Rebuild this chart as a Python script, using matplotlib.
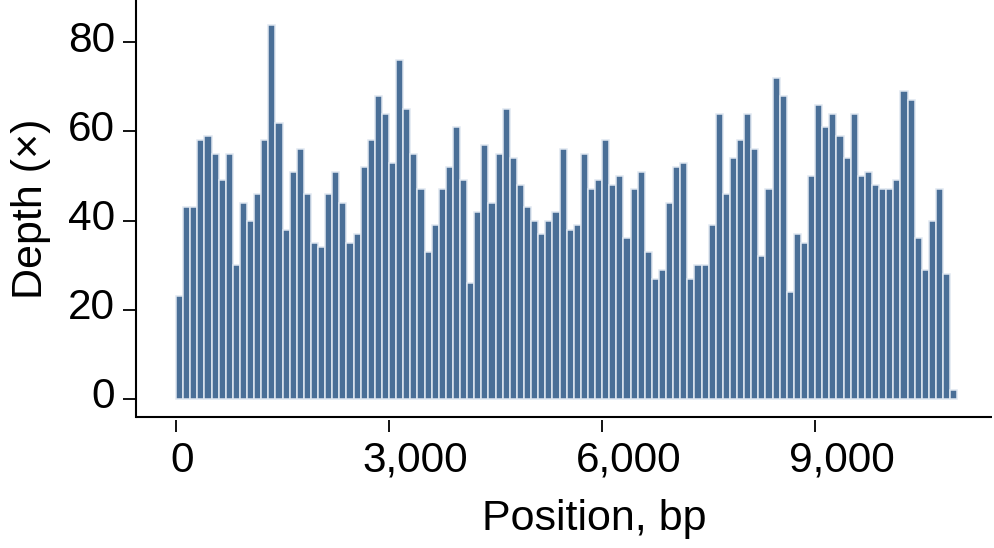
import matplotlib
matplotlib.use("Agg")
import matplotlib.pyplot as plt
from matplotlib.ticker import FuncFormatter
from matplotlib.transforms import ScaledTranslation
import numpy as np

plt.rcParams['font.family'] = ['Liberation Sans', 'DejaVu Sans']

bin_size = 100
depth = [23, 43, 43, 58, 59, 55, 49, 55, 30, 44, 40, 46, 58, 84, 62, 38, 51, 56, 46, 35,
         34, 46, 51, 44, 35, 37, 52, 58, 68, 64, 53, 76, 65, 55, 47, 33, 39, 47, 52, 61,
         49, 26, 42, 57, 44, 55, 65, 54, 48, 43, 40, 37, 40, 42, 56, 38, 39, 55, 47, 49,
         58, 48, 50, 36, 47, 51, 33, 27, 29, 44, 52, 53, 27, 30, 30, 39, 64, 46, 54, 58,
         64, 56, 32, 47, 72, 68, 24, 37, 35, 50, 66, 61, 64, 59, 54, 64, 50, 51, 48, 47,
         47, 49, 69, 67, 36, 29, 40, 47, 28, 2]
positions = np.arange(len(depth)) * bin_size
xticks = [0, 3000, 6000, 9000]
yticks = [0, 20, 40, 60, 80]

DPI = 100
fig = plt.figure(figsize=(9.95, 5.48), dpi=DPI)
ax = fig.add_axes([0.1367, 0.2396, 0.997 - 0.1367, 1 - 0.2396])

ax.bar(positions, depth, width=bin_size, align='edge', color='#4a6f97',
       edgecolor='#dfe7f0', linewidth=1.1)

ax.set_xlim(-563, 11490)
ax.set_ylim(-4, 89.5)
ax.set_xticks(xticks)
ax.set_yticks(yticks)
ax.xaxis.set_major_formatter(FuncFormatter(lambda v, p: f"{int(v):,}"))

for s in ['top', 'right']:
    ax.spines[s].set_visible(False)
ax.spines['left'].set_linewidth(1.5)
# bottom axis: ticks hang slightly below the axis line
ax.spines['bottom'].set_position(('outward', 2.4))
ax.spines['bottom'].set_visible(False)
ax.plot([0, 1], [0, 0], transform=ax.transAxes, color='black', lw=1.5,
        clip_on=False, solid_capstyle='butt')

ax.tick_params(axis='both', labelsize=30.5, width=1.3, direction='out', colors='black')
ax.tick_params(axis='x', length=8.5, pad=6.5)
ax.tick_params(axis='y', length=9.5, pad=5.5)

ax.set_xlabel('Position, bp', fontsize=31, labelpad=13, x=0.535)
ax.set_ylabel('Depth (×)', fontsize=31, labelpad=12)

fig.canvas.draw()
for lab in ax.get_xticklabels():
    w = lab.get_window_extent().width
    lab.set_transform(lab.get_transform() + ScaledTranslation(0.25 * w / DPI, 0, fig.dpi_scale_trans))
for lab in ax.get_yticklabels():
    lab.set_transform(lab.get_transform() + ScaledTranslation(0, 6 / DPI, fig.dpi_scale_trans))

fig.savefig('out.png', dpi=DPI)
